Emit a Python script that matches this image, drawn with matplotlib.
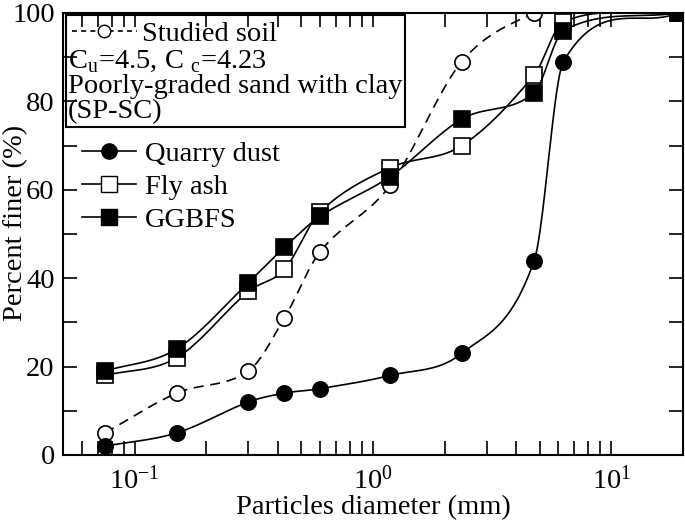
import numpy as np
import matplotlib
matplotlib.use('Agg')
import matplotlib.pyplot as plt
import matplotlib.ticker as ticker
from matplotlib.patches import Rectangle
from matplotlib.lines import Line2D

plt.rcParams['font.family'] = ['Liberation Serif', 'DejaVu Serif']
plt.rcParams['mathtext.fontset'] = 'custom'
plt.rcParams['mathtext.rm'] = 'Liberation Serif'
plt.rcParams['axes.unicode_minus'] = False

# sieve sizes (mm) and percent finer
sizes = [0.075, 0.15, 0.3, 0.425, 0.6, 1.18, 2.36, 4.75, 6.3, 19.0]
studied_soil = [5, 14, 19, 31, 46, 61, 89, 100, 100, 100]
quarry_dust = [2, 5, 12, 14, 15, 18, 23, 44, 89, 100]
fly_ash = [18, 22, 37, 42, 55, 65, 70, 86, 98, 100]
ggbfs = [19, 24, 39, 47, 54, 63, 76, 82, 96, 100]


def smooth(x, y, n=400):
    # Catmull-Rom style cubic Hermite curve in log-x
    lx = np.log10(np.array(x, dtype=float))
    y = np.array(y, dtype=float)
    m = np.zeros_like(y)
    m[0] = (y[1] - y[0]) / (lx[1] - lx[0])
    m[-1] = (y[-1] - y[-2]) / (lx[-1] - lx[-2])
    m[1:-1] = (y[2:] - y[:-2]) / (lx[2:] - lx[:-2])
    xs, ys = [], []
    for k in range(len(lx) - 1):
        h = lx[k + 1] - lx[k]
        t = np.linspace(0, 1, n // len(lx))
        h00 = 2 * t**3 - 3 * t**2 + 1
        h10 = t**3 - 2 * t**2 + t
        h01 = -2 * t**3 + 3 * t**2
        h11 = t**3 - t**2
        yy = h00 * y[k] + h10 * h * m[k] + h01 * y[k + 1] + h11 * h * m[k + 1]
        xs.append(10 ** (lx[k] + t * h))
        ys.append(yy)
    return np.concatenate(xs), np.concatenate(ys)


fig = plt.figure(figsize=(6.85, 5.2), dpi=100)
ax = fig.add_axes([0.092, 0.125, 0.905, 0.85])

fs = 20.5
lw = 1.2
ms = 11
series = [
    (studied_soil, 'o', 'white', '--'),
    (fly_ash, 's', 'white', '-'),
    (quarry_dust, 'o', 'black', '-'),
    (ggbfs, 's', 'black', '-'),
]
for vals, mk, fc, ls in series:
    sx, sy = smooth(sizes, vals)
    ax.plot(sx, sy, color='black', lw=lw, ls=ls, dashes=(6, 4) if ls == '--' else (None, None))
    ax.plot(sizes, vals, ls='none', marker=mk, ms=ms, mfc=fc, mec='black', mew=1.2)

ax.set_xscale('log')
ax.set_xlim(0.05, 20)
ax.set_ylim(0, 100)
ax.yaxis.set_major_locator(ticker.MultipleLocator(20))
ax.yaxis.set_minor_locator(ticker.MultipleLocator(10))
ax.tick_params(which='both', direction='in', length=10, width=1.2,
               top=True, right=True, labelsize=fs)
ax.tick_params(axis='x', which='major', pad=8)
ax.tick_params(axis='y', which='major', pad=6)
for s in ax.spines.values():
    s.set_linewidth(1.5)

ax.set_xlabel('Particles diameter (mm)', fontsize=fs, labelpad=0)
ax.set_ylabel('Percent finer (%)', fontsize=fs)
ax.yaxis.set_label_coords(-0.057, 0.525)

# framed box for studied soil
h_soil = Line2D([], [], color='black', lw=lw, ls='--', dashes=(3, 2.5), marker='o',
                ms=9, mfc='white', mec='black', mew=1.0)
leg1 = ax.legend([h_soil], ['Studied soil'], loc='center left', frameon=False,
                 fontsize=fs, bbox_to_anchor=(0.014, 0.953), handlelength=2.3,
                 handletextpad=0.18, borderaxespad=0, borderpad=0)
ax.add_artist(leg1)
ax.text(0.008, 0.92,
        'C$_\\mathregular{u}$=4.5, C $_\\mathregular{c}$=4.23\nPoorly-graded sand with clay\n(SP-SC)',
        transform=ax.transAxes, fontsize=fs, va='top', ha='left', linespacing=0.97)
ax.add_patch(Rectangle((0.005, 0.742), 0.547, 0.253, transform=ax.transAxes,
                       fill=False, lw=1.5, ec='black', zorder=5))

hq = Line2D([], [], color='black', lw=lw, marker='o', ms=ms, mfc='black', mec='black')
hf = Line2D([], [], color='black', lw=lw, marker='s', ms=ms, mfc='white', mec='black')
hg = Line2D([], [], color='black', lw=lw, marker='s', ms=ms, mfc='black', mec='black')
ax.legend([hq, hf, hg], ['Quarry dust', 'Fly ash', 'GGBFS'], loc='upper left',
          frameon=False, fontsize=fs, bbox_to_anchor=(0.031, 0.71), handlelength=1.9,
          handletextpad=0.3, labelspacing=0.25, borderaxespad=0, borderpad=0)

fig.savefig('out.png', dpi=100)
